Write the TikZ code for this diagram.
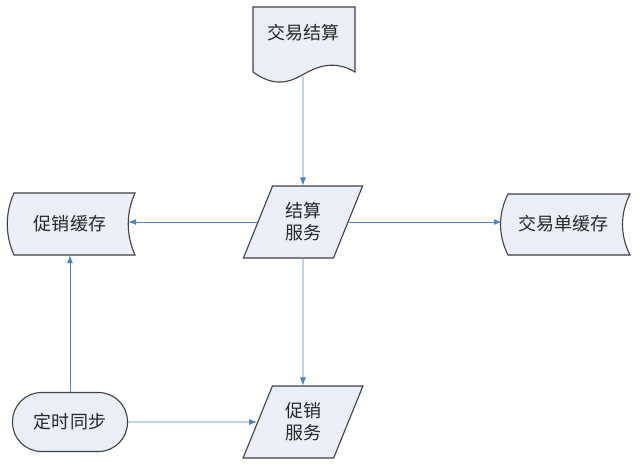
\documentclass[tikz,border=0pt]{standalone}
\usepackage{fontspec}
\newfontfamily\cjk{Noto Sans CJK SC}
\usetikzlibrary{shapes.geometric,arrows.meta}
\definecolor{boxfill}{RGB}{233,238,247}
\definecolor{boxline}{RGB}{64,64,64}
\definecolor{flow}{RGB}{79,129,189}
\tikzset{
	label text/.style={font=\cjk\fontsize{18}{22}\selectfont,text=black!85,align=center,inner sep=0pt},
	outline/.style={fill=boxfill,draw=boxline,line width=1.1pt},
	io/.style={outline,label text,trapezium,trapezium left angle=66,trapezium right angle=114,
		trapezium stretches=true,minimum width=120pt,minimum height=72pt},
	terminal/.style={outline,label text,rectangle,rounded corners=29pt,minimum width=115pt,minimum height=59pt},
	flowline/.style={draw=flow,line width=0.9pt,-{Latex[length=8pt,width=6pt]}}
}
\begin{document}
\begin{tikzpicture}[x=1pt,y=-1pt]
	\useasboundingbox (0,0) rectangle (640,464);
	\draw[outline] (253,7) -- (355,7) -- (355,72) .. controls (335,60) and (318,66) .. (304,74)
		.. controls (290,82) and (275,88) .. (253,72) -- cycle;
	\draw[outline] (14,193) -- (135,193) .. controls (126,213) and (126,235) .. (135,255)
		-- (14,255) .. controls (5,235) and (5,213) .. cycle;
	\draw[outline] (508,194) -- (630,194) .. controls (620,214) and (620,235) .. (630,255)
		-- (508,255) .. controls (498,235) and (498,214) .. cycle;
	\node[label text,anchor=north,text height=32pt,text depth=37pt,minimum width=102pt] (trade) at (303,7) {交易结算};
	\node[label text,minimum width=116pt,minimum height=62pt] (pcache) at (70,224) {促销缓存};
	\node[label text,minimum width=122pt,minimum height=61pt] (tcache) at (563,224) {交易单缓存};
	\node[io] (settle) at (303,222) {结算\\服务};
	\node[io] (promo) at (303,422) {促销\\服务};
	\node[terminal] (sync) at (70,422) {定时同步};
	\draw[flowline] (trade) -- (settle);
	\draw[flowline] (settle.left side) -- (settle.left side -| pcache.east);
	\draw[flowline] (settle.right side) -- (settle.right side -| tcache.west);
	\draw[flowline] (settle) -- (promo);
	\draw[flowline] (sync) -- (pcache);
	\draw[flowline] (sync) -- (promo);
\end{tikzpicture}
\end{document}
